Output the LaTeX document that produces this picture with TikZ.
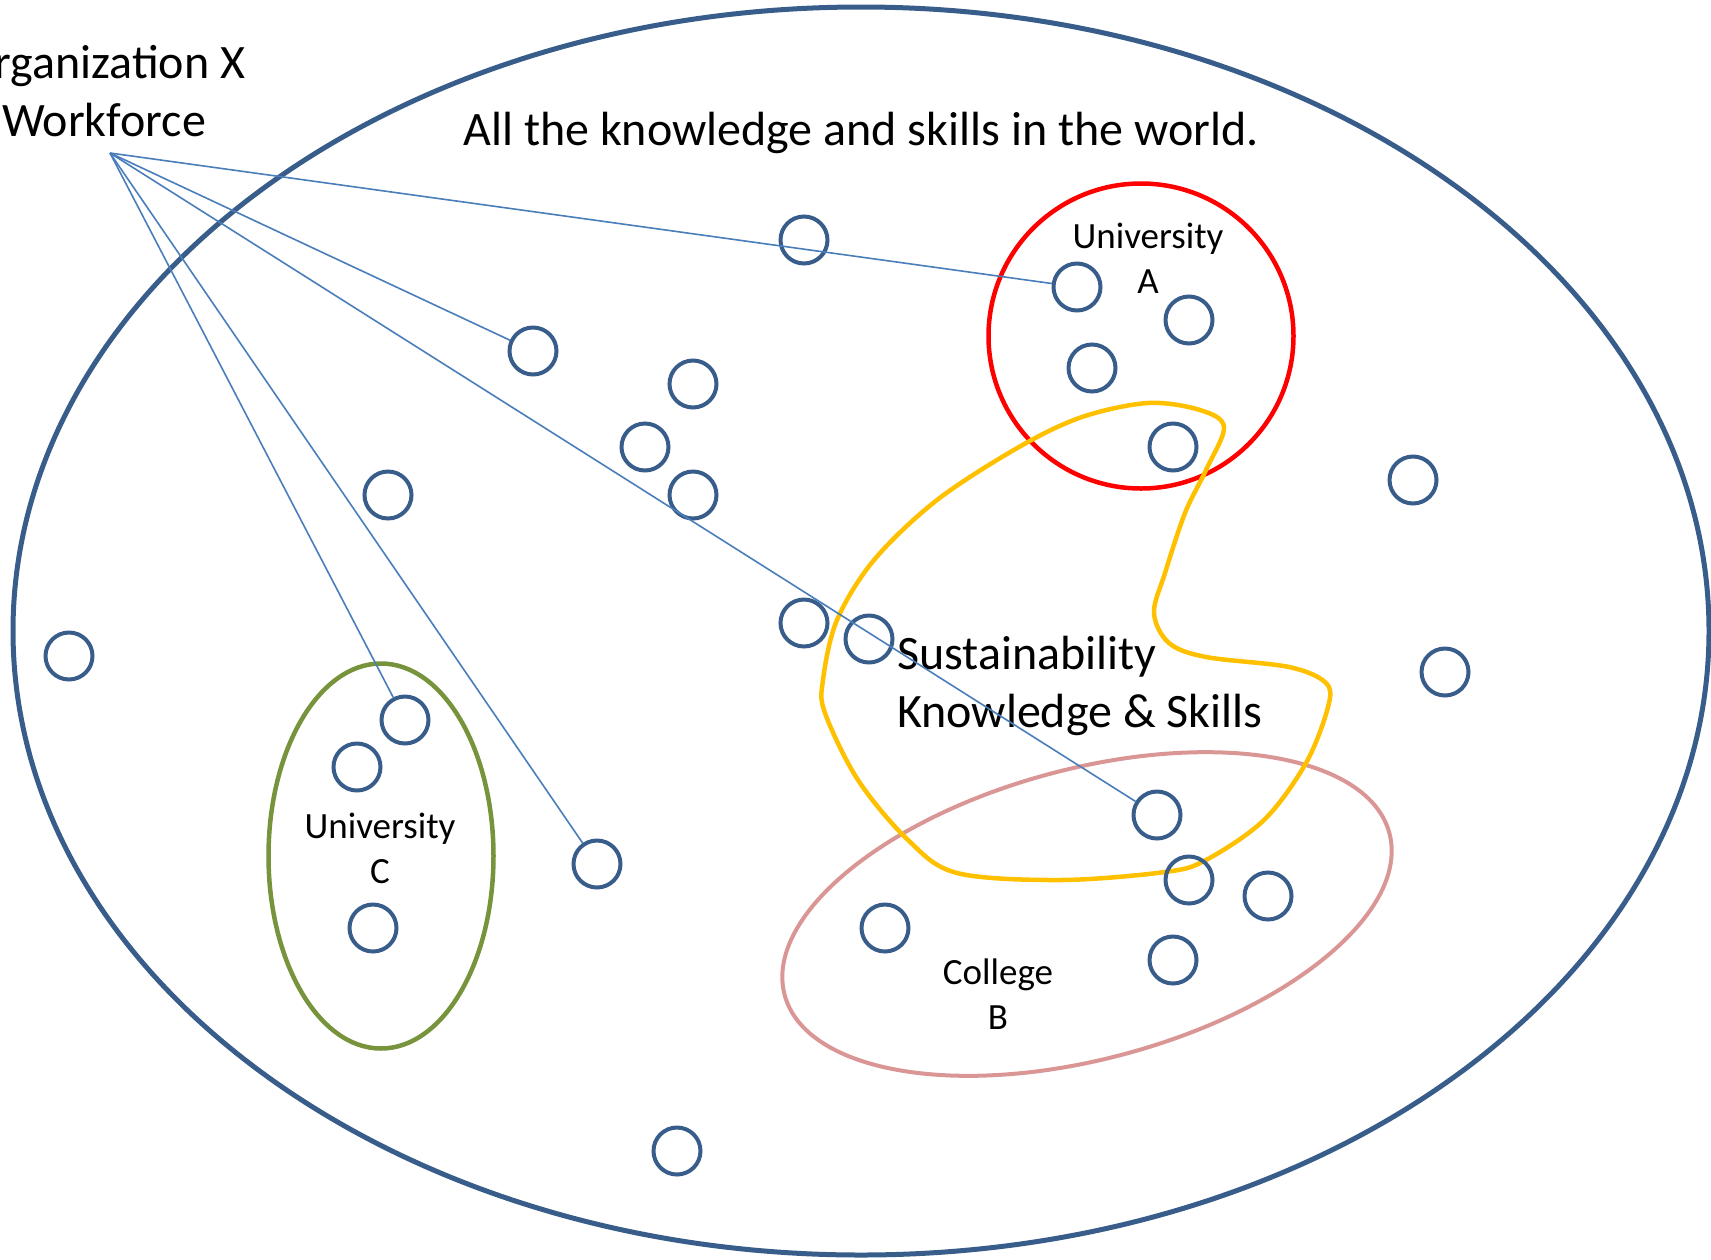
\documentclass[tikz,border=0pt]{standalone}
\usepackage{fontspec}
\setmainfont{Carlito}
\usetikzlibrary{shapes.geometric}
\definecolor{dkblue}{HTML}{385D8A}
\definecolor{lnblue}{HTML}{4A7EBB}
\definecolor{uared}{HTML}{FF0000}
\definecolor{ksgold}{HTML}{FFC000}
\definecolor{ucgreen}{HTML}{77933C}
\definecolor{cbpink}{HTML}{D99694}
\begin{document}
\begin{tikzpicture}[x=1pt,y=-1pt,
  dot/.style={circle,draw=dkblue,line width=4pt,minimum size=47pt,inner sep=0pt},
  link/.style={draw=lnblue,line width=1.6pt},
  bigtext/.style={font=\fontsize{48}{58}\selectfont,inner sep=0pt},
  midtext/.style={font=\fontsize{37}{45}\selectfont,align=center,inner sep=0pt},
  group/.style={inner sep=0pt,line width=4.5pt},
]
\useasboundingbox (0,0) rectangle (1711,1259);

% world
\node[ellipse,draw=dkblue,line width=5pt,minimum width=1696pt,minimum height=1248pt,inner sep=0pt] (world) at (861,631) {};

% groups
\node[group,circle,draw=uared,minimum size=305pt] (uniA) at (1141,336) {};
\node[group,ellipse,draw=ucgreen,minimum width=225pt,minimum height=385pt] (uniC) at (381,856) {};
\node[group,ellipse,draw=cbpink,line width=4pt,minimum width=626pt,minimum height=290pt,rotate=15] (collegeB) at (1087,914) {};
\draw[ksgold,line width=4.5pt] plot[smooth cycle,tension=0.55] coordinates {
  (1148,403) (1200,410) (1224,427) (1206,470) (1185,513) (1165,573) (1154,613)
  (1169,643) (1206,657) (1289,667) (1326,683) (1328,707) (1306,763) (1264,820)
  (1206,860) (1165,872) (1061,880) (957,873) (908,840) (858,780) (825,713)
  (823,680) (837,620) (874,560) (937,500) (1019,447) (1082,417)};

% texts (anchor base = baseline of the last line)
\node[bigtext,anchor=base] (title) at (861,145) {All the knowledge and skills in the world.};
\node[bigtext,align=center,anchor=base] (orgx) at (104,136) {Organization X\\Workforce};
\node[bigtext,align=left,anchor=base west] (sks) at (897,727) {Sustainability\\Knowledge \& Skills};
\node[midtext,anchor=base] (labA) at (1148,293) {University\\A};
\node[midtext,anchor=base] (labC) at (380,883) {University\\C};
\node[midtext,anchor=base] (labB) at (998,1029) {College\\B};

% dots
\foreach \n/\x/\y in {1/804/240, 2/1077/287, 3/1189/320, 4/1092/368, 5/1173/447,
  6/533/351, 7/693/384, 8/645/447, 9/693/495, 10/388/495, 11/1413/480, 12/69/656,
  13/804/623, 14/869/639, 15/1445/672, 16/405/720, 17/357/767, 18/373/928,
  19/597/864, 20/1157/815, 21/1189/880, 22/1268/896, 23/885/928, 24/1173/960,
  25/677/1151}
  \node[dot] (c\n) at (\x,\y) {};

% connectors
\coordinate (hub) at (110,153);
\foreach \t in {2,6,20,19,16}
  \draw[link] (hub) -- (c\t);
\end{tikzpicture}
\end{document}
